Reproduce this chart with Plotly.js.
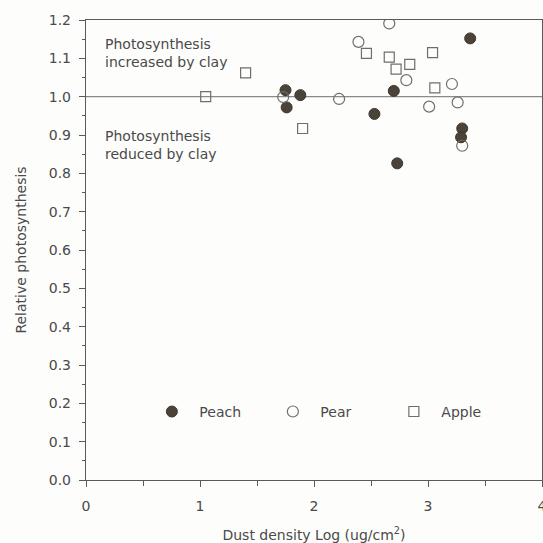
<!DOCTYPE html>
<html>
<head>
<meta charset="utf-8">
<script src="https://cdn.plot.ly/plotly-3.0.1.min.js"></script>
<style>html,body{margin:0;padding:0;background:#fdfdfb;}</style>
</head>
<body>
<div id="chart" style="width:543px;height:543px;"></div>
<script>
// Data
const peachX = [1.75, 1.88, 1.76, 2.70, 2.53, 2.73, 3.37, 3.30, 3.29];
const peachY = [1.017, 1.004, 0.972, 1.015, 0.955, 0.826, 1.152, 0.917, 0.894];

const pearX = [2.66, 2.39, 2.81, 3.21, 2.22, 3.01, 3.26, 3.30, 1.73];
const pearY = [1.191, 1.143, 1.043, 1.033, 0.994, 0.974, 0.985, 0.872, 0.999];

const appleX = [1.40, 1.05, 1.90, 2.46, 2.66, 3.04, 2.72, 2.84, 3.06];
const appleY = [1.062, 1.000, 0.917, 1.113, 1.103, 1.115, 1.072, 1.084, 1.023];

const seriesNames = ["Peach", "Pear", "Apple"];
const xTicks = [0, 1, 2, 3, 4];
const yTicks = [0.0, 0.1, 0.2, 0.3, 0.4, 0.5, 0.6, 0.7, 0.8, 0.9, 1.0, 1.1, 1.2];
const refLineY = 1.0;
const noteUp = "Photosynthesis<br>increased by clay";
const noteDown = "Photosynthesis<br>reduced by clay";
const xTitle = "Dust density Log (ug/cm<sup>2</sup>)";
const yTitle = "Relative photosynthesis";

const FONT = "DejaVu Sans, Liberation Sans, Arial, sans-serif";
const TXT = "#4a4a4a";
const AX = "#5a5a5a";

const traces = [
  {x: peachX, y: peachY, name: seriesNames[0], type: "scatter", mode: "markers",
   marker: {symbol: "circle", size: 11, color: "#4b4338", line: {color: "#3e372f", width: 1}}},
  {x: pearX, y: pearY, name: seriesNames[1], type: "scatter", mode: "markers",
   marker: {symbol: "circle-open", size: 11, color: "#6e6e6e", line: {width: 1.2}}},
  {x: appleX, y: appleY, name: seriesNames[2], type: "scatter", mode: "markers",
   marker: {symbol: "square-open", size: 10, color: "#6e6e6e", line: {width: 1.2}}}
];

const layout = {
  width: 543, height: 543,
  margin: {l: 86, r: 1, t: 20, b: 63},
  paper_bgcolor: "#fdfdfb", plot_bgcolor: "#fdfdfb",
  font: {family: FONT, color: TXT, size: 14},
  showlegend: true,
  legend: {orientation: "h", x: 0.128, y: 0.148, xanchor: "left", yanchor: "middle",
           bgcolor: "rgba(0,0,0,0)", font: {family: FONT, size: 14, color: TXT},
           itemwidth: 45, entrywidth: 61, entrywidthmode: "pixels"},
  xaxis: {range: [0, 4], tickvals: xTicks, ticktext: xTicks.map(String),
          ticks: "outside", ticklen: 6, tickcolor: AX, tickwidth: 1,
          showline: true, linecolor: AX, linewidth: 1.2, mirror: true,
          showgrid: false, zeroline: false, ticklabelstandoff: 7, ticklabeloverflow: "allow",
          minor: {dtick: 0.5, ticks: "outside", ticklen: 5, tickcolor: AX, showgrid: false},
          tickfont: {family: FONT, size: 14, color: TXT},
          title: {text: xTitle, font: {family: FONT, size: 14, color: TXT}, standoff: 24}},
  yaxis: {range: [0, 1.2], tickvals: yTicks, ticktext: yTicks.map(v => v.toFixed(1)),
          ticks: "outside", ticklen: 6, tickcolor: AX, tickwidth: 1,
          showline: true, linecolor: AX, linewidth: 1.2, mirror: true,
          showgrid: false, zeroline: false, ticklabelstandoff: 5,
          minor: {dtick: 0.05, ticks: "outside", ticklen: 3, tickcolor: AX, showgrid: false},
          tickfont: {family: FONT, size: 14, color: TXT},
          title: {text: yTitle, font: {family: FONT, size: 14, color: TXT}, standoff: 18}},
  shapes: [
    {type: "line", xref: "paper", x0: 0, x1: 1, yref: "y", y0: refLineY, y1: refLineY,
     line: {color: "#8a8a8a", width: 1.3}, layer: "below"}
  ],
  annotations: [
    {text: noteUp, xref: "paper", x: 0.037, xanchor: "left", yref: "y", y: 1.114, yanchor: "middle",
     showarrow: false, align: "left", font: {family: FONT, size: 14, color: TXT}},
    {text: noteDown, xref: "paper", x: 0.037, xanchor: "left", yref: "y", y: 0.875, yanchor: "middle",
     showarrow: false, align: "left", font: {family: FONT, size: 14, color: TXT}}
  ]
};

Plotly.newPlot("chart", traces, layout, {displayModeBar: false, staticPlot: true});
</script>
</body>
</html>
